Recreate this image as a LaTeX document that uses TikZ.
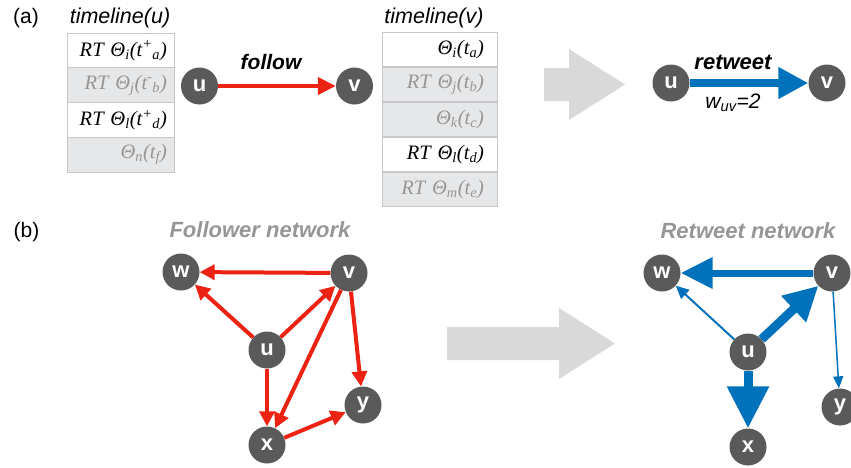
\documentclass[tikz,border=0pt]{standalone}
\usepackage{fontspec}
\setmainfont{Liberation Sans}
\newfontfamily\tms{Liberation Serif}
\usetikzlibrary{arrows.meta}
\definecolor{ndgray}{RGB}{90,90,90}
\definecolor{redc}{RGB}{236,34,18}
\definecolor{bluec}{RGB}{0,114,188}
\definecolor{rowgray}{RGB}{230,231,233}
\definecolor{cellborder}{RGB}{200,200,202}
\definecolor{txtgray}{RGB}{150,150,150}
\definecolor{bigarrow}{RGB}{217,217,217}
\definecolor{titlegray}{RGB}{150,150,150}
\begin{document}
\begin{tikzpicture}[x=1pt,y=-1pt,
  nd/.style={circle, fill=ndgray, minimum size=37pt, inner sep=0pt, text=white,
    font=\fontsize{22}{22}\selectfont\bfseries},
  cellL/.style={draw=cellborder, line width=0.8pt, minimum height=34.75pt, text width=93pt,
    inner xsep=7pt, inner ysep=0pt, align=right, font=\tms\itshape\fontsize{20.5}{21}\selectfont},
  cellR/.style={cellL, text width=89pt, inner xsep=13pt},
  grayrow/.style={fill=rowgray, text=txtgray},
  whiterow/.style={fill=white, text=black},
  lbl/.style={font=\fontsize{21}{21}\selectfont},
  ttl/.style={font=\fontsize{21.5}{21.5}\selectfont\itshape},
  nettitle/.style={font=\fontsize{22}{22}\selectfont\bfseries\itshape, text=titlegray},
  redarrow/.style={draw=redc, line width=4pt, -{Triangle[length=15pt,width=15pt]}},
  followarrow/.style={draw=redc, line width=4pt, -{Triangle[length=18pt,width=17pt]}},
  bluethin/.style={draw=bluec, line width=2pt, -{Triangle[length=13pt,width=12pt]}},
  bluethinner/.style={draw=bluec, line width=1.5pt, -{Triangle[length=12pt,width=10pt]}},
  bigarr/.style={fill=bigarrow, draw=none}
]
\useasboundingbox (0,0) rectangle (851,467);

% ---------- (a) ----------
\node[lbl] (la) at (26,18) {(a)};
\node[ttl] (tu) at (120,18) {timeline(u)};
\node[ttl] (tv) at (434,18) {timeline(v)};

% left table
\node[cellL, whiterow] (l1) at (120.5,50.4) {RT Θ\textsubscript{i}(t\textsuperscript{+}\textsubscript{a})};
\node[cellL, grayrow]  (l2) at (120.5,85.1) {RT Θ\textsubscript{j}(t\textsuperscript{-}\textsubscript{b})};
\node[cellL, whiterow] (l3) at (120.5,119.9) {RT Θ\textsubscript{l}(t\textsuperscript{+}\textsubscript{d})};
\node[cellL, grayrow]  (l4) at (120.5,154.6) {Θ\textsubscript{n}(t\textsubscript{f})\hspace{7pt}};

% right table
\node[cellR, whiterow] (r1) at (439.5,49.5) {Θ\textsubscript{i}(t\textsubscript{a})};
\node[cellR, grayrow]  (r2) at (439.5,84.5) {RT Θ\textsubscript{j}(t\textsubscript{b})};
\node[cellR, grayrow]  (r3) at (439.5,119.5) {Θ\textsubscript{k}(t\textsubscript{c})};
\node[cellR, whiterow] (r4) at (439.5,154.5) {RT Θ\textsubscript{l}(t\textsubscript{d})};
\node[cellR, grayrow]  (r5) at (439.5,189.5) {RT Θ\textsubscript{m}(t\textsubscript{e})};

% follow
\node[nd] (au) at (199.5,86) {u};
\node[nd] (av) at (354.5,86) {v};
\draw[followarrow] (au) -- (av);
\node[font=\fontsize{21}{21}\selectfont\bfseries\itshape] (fl) at (271,62) {follow};

% big arrow (a)
\fill[bigarr] (544,68) -- (569,68) -- (569,49) -- (625,84.5) -- (569,120) -- (569,101) -- (544,101) -- cycle;

% retweet
\node[nd] (bu) at (671,83) {u};
\node[nd] (bv) at (827,83) {v};
\draw[draw=bluec, line width=8pt, -{Triangle[length=30pt,width=30pt]}] (bu) -- (bv);
\node[font=\fontsize{22}{22}\selectfont\bfseries\itshape] (rt) at (733,62) {retweet};
\node[font=\fontsize{21}{21}\selectfont\itshape] (wl) at (733,103) {w\textsubscript{uv}=2};

% ---------- (b) ----------
\node[lbl] (lb) at (26.5,232) {(b)};
\node[nettitle] (ft) at (260,230) {Follower network};
\node[nettitle] (rtt) at (748,231) {Retweet network};

% follower network
\node[nd] (fw) at (181,272) {w};
\node[nd] (fv) at (349,273) {v};
\node[nd] (fu) at (267,350) {u};
\node[nd] (fy) at (363,405) {y};
\node[nd] (fx) at (267,445) {x};
\draw[redarrow] (fv) -- (fw);
\draw[redarrow] (fu) -- (fw);
\draw[redarrow] (fu) -- (fv);
\draw[redarrow] (fv) -- (fx);
\draw[redarrow] (fv) -- (fy);
\draw[redarrow] (fu) -- (fx);
\draw[redarrow] (fx) -- (fy);

% big arrow (b)
\fill[bigarr] (447,327) -- (559,327) -- (559,308) -- (615,343.5) -- (559,379) -- (559,360) -- (447,360) -- cycle;

% retweet network
\node[nd] (gw) at (662,273) {w};
\node[nd] (gv) at (832,273) {v};
\node[nd] (gu) at (748,352) {u};
\node[nd] (gy) at (840,407) {y};
\node[nd] (gx) at (748,447) {x};
\draw[draw=bluec, line width=7pt, -{Triangle[length=32pt,width=30pt]}] (gv) -- (gw);
\draw[bluethin] (gu) -- (gw);
\draw[draw=bluec, line width=9pt, -{Triangle[length=34pt,width=34pt]}] (gu) -- (gv);
\draw[bluethinner] (gv) -- (gy);
\draw[draw=bluec, line width=9pt, -{Triangle[length=42pt,width=40pt]}] (gu) -- (gx);
\end{tikzpicture}
\end{document}
